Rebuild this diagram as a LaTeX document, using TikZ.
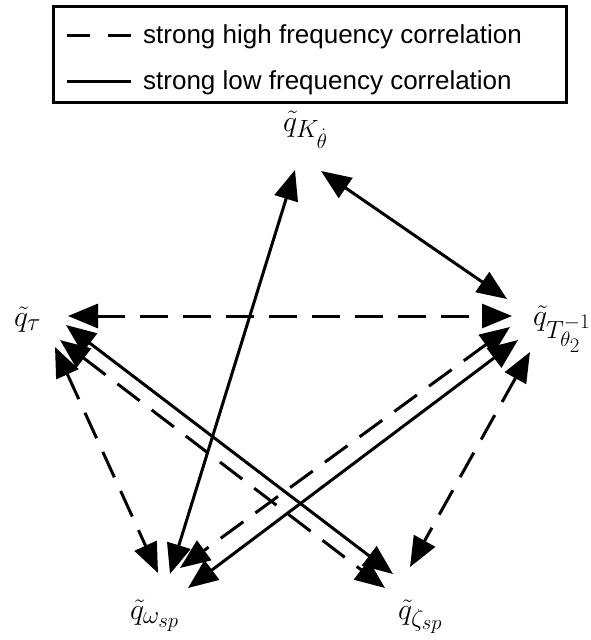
\documentclass[tikz,border=0pt]{standalone}
\usepackage{fontspec}
\newfontfamily\legendfont{Liberation Sans}
\usetikzlibrary{arrows.meta}
\begin{document}
\begin{tikzpicture}[x=1pt,y=-1pt,
  conn/.style={line width=3pt, {Triangle[length=30pt,width=24pt]}-{Triangle[length=30pt,width=24pt]}},
  hf/.style={conn, dash pattern=on 28pt off 15pt},
  lf/.style={conn},
  lbl/.style={inner sep=0pt, anchor=base west, font=\Huge, scale=1.2, transform shape},
  legtext/.style={inner sep=0pt, anchor=base west, font=\legendfont\fontsize{26}{30}\selectfont},
  legline/.style={line width=3pt}]
\useasboundingbox (0,0) rectangle (590,640);
% legend
\node[draw, line width=3pt, minimum width=513pt, minimum height=96pt, inner sep=0pt, anchor=north west] (legend) at (52,5) {};
\coordinate (d1) at (67,35); \coordinate (d2) at (131,35);
\coordinate (s1) at (67,81); \coordinate (s2) at (131,81);
\draw[legline, dash pattern=on 23pt off 18pt] (d1) -- (d2);
\draw[legline] (s1) -- (s2);
\node[legtext] (lt1) at (143,43) {strong high frequency correlation};
\node[legtext] (lt2) at (143,89) {strong low frequency correlation};
% labels
\node[lbl] (K) at (283,131) {$\tilde q_{K_{\dot\theta}}$};
\node[lbl] (tau) at (14,326) {$\tilde q_\tau$};
\node[lbl] (T) at (533,325) {$\tilde q_{T^{-1}_{\theta_2}}$};
\node[lbl] (om) at (130,619) {$\tilde q_{\omega_{sp}}$};
\node[lbl] (ze) at (398,619) {$\tilde q_{\zeta_{sp}}$};
% arrow end points
\coordinate (k1) at (295,170); \coordinate (o1) at (170,574);
\coordinate (k2) at (321,171); \coordinate (t2) at (507,299);
\coordinate (a3) at (68,316);  \coordinate (t3) at (512,316);
\coordinate (a4) at (66,325);  \coordinate (z4) at (393,574);
\coordinate (a5) at (60,340);  \coordinate (z5) at (385,588);
\coordinate (a6) at (55,347);  \coordinate (o6) at (158,573);
\coordinate (t7) at (510,327); \coordinate (o7) at (180,568);
\coordinate (t8) at (518,340); \coordinate (o8) at (188,588);
\coordinate (t9) at (530,352); \coordinate (z9) at (410,567);
% connectors
\draw[lf] (k1) -- (o1);
\draw[lf] (k2) -- (t2);
\draw[hf] (a3) -- (t3);
\draw[lf] (a4) -- (z4);
\draw[hf] (a5) -- (z5);
\draw[hf] (a6) -- (o6);
\draw[hf] (t7) -- (o7);
\draw[lf] (t8) -- (o8);
\draw[hf] (t9) -- (z9);
\end{tikzpicture}
\end{document}
